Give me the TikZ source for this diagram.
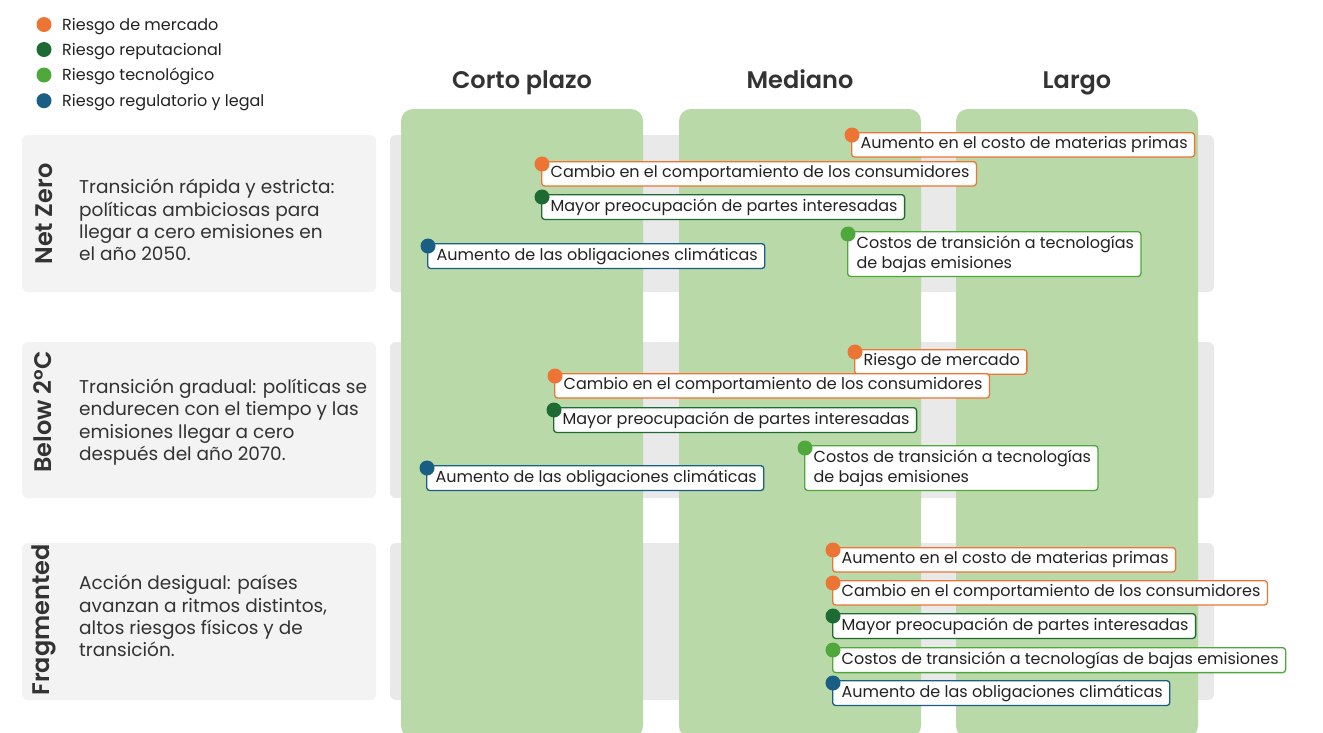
\documentclass[tikz,border=0pt]{standalone}
\usepackage{fontspec}
\setmainfont{Poppins}
\newfontfamily\semib{Poppins SemiBold}
\usetikzlibrary{calc}
\definecolor{orng}{HTML}{EC7535}
\definecolor{dgrn}{HTML}{1D6B33}
\definecolor{lgrn}{HTML}{4FA83B}
\definecolor{blu}{HTML}{195F84}
\definecolor{colg}{HTML}{B9D9A8}
\definecolor{rowl}{HTML}{F3F3F3}
\definecolor{rowr}{HTML}{E9E9E9}
\definecolor{txt}{HTML}{222222}
\definecolor{dtxt}{HTML}{333333}
\newcommand\riskbox[5]{%
  \node[lab=#2] (#1) at (#3,#4) {\hspace*{2pt}#5};
  \node[dot=#2] (#1d) at ($(#1.north west)+(1,3)$) {};}
\begin{document}
\begin{tikzpicture}[x=1pt,y=-1pt,
  lab/.style={draw=#1, fill=white, rounded corners=3pt, line width=1.3pt, anchor=north west,
    inner xsep=7pt, inner ysep=4pt, text=txt, align=left, minimum height=24pt,
    font=\fontsize{16}{20}\selectfont},
  dot/.style={circle, fill=#1, inner sep=0pt, minimum size=15pt},
  legt/.style={anchor=base west, inner sep=0pt, text=txt, font=\fontsize{16}{18}\selectfont},
  hdr/.style={anchor=base, inner sep=0pt, text=dtxt, font=\fontsize{24}{28}\selectfont\semib},
  rowname/.style={rotate=90, text=dtxt, font=\fontsize{24}{28}\selectfont\semib},
  desc/.style={anchor=west, inner sep=0pt, align=left, text=dtxt, font=\fontsize{18.5}{22.4}\selectfont},
  colbox/.style={fill=colg, rounded corners=12pt},
  rowleft/.style={fill=rowl, rounded corners=6pt},
  rowright/.style={fill=rowr, rounded corners=6pt}]
\useasboundingbox[fill=white] (0,0) rectangle (1323,732);

% legend
\node[dot=orng] (l1d) at (44,24.5) {};
\node[legt] (l1) at (62,30) {Riesgo de mercado};
\node[dot=dgrn] (l2d) at (44,49.5) {};
\node[legt] (l2) at (62,55.3) {Riesgo reputacional};
\node[dot=lgrn] (l3d) at (44,75) {};
\node[legt] (l3) at (62,80.6) {Riesgo tecnológico};
\node[dot=blu] (l4d) at (44,100.7) {};
\node[legt] (l4) at (62,106) {Riesgo regulatorio y legal};

% rows
\fill[rowleft] (22,135) rectangle (376,292);
\fill[rowright] (390,135) rectangle (1214,292);
\fill[rowleft] (22,342) rectangle (376,498);
\fill[rowright] (390,342) rectangle (1214,498);
\fill[rowleft] (22,543) rectangle (376,700);
\fill[rowright] (390,543) rectangle (1214,700);

% columns
\fill[colbox] (401,109) rectangle (643,738);
\fill[colbox] (679,109) rectangle (921,738);
\fill[colbox] (956,109) rectangle (1198,738);

% headers
\node[hdr] (h1) at (522,88.3) {Corto plazo};
\node[hdr] (h2) at (800,88.3) {Mediano};
\node[hdr] (h3) at (1077,88.3) {Largo};

% row names and descriptions
\node[rowname] (r1) at (44,214) {Net Zero};
\node[desc] (d1) at (79,220) {Transición rápida y estricta:\\políticas ambiciosas para\\llegar a cero emisiones en\\el año 2050.};
\node[rowname] (r2) at (43,412) {Below 2°C};
\node[desc] (d2) at (79,422) {Transición gradual: políticas se\\endurecen con el tiempo y las\\emisiones llegar a cero\\después del año 2070.};
\node[rowname] (r3) at (44,620) {Fragmented};
\node[desc] (d3) at (79,616) {Acción desigual: países\\avanzan a ritmos distintos,\\altos riesgos físicos y de\\transición.};

% Net Zero
\riskbox{a1}{orng}{851}{132}{Aumento en el costo de materias primas}
\riskbox{a2}{orng}{541}{161}{Cambio en el comportamiento de los consumidores}
\riskbox{a3}{dgrn}{541}{194}{Mayor preocupación de partes interesadas}
\riskbox{a4}{lgrn}{847}{231}{Costos de transición a tecnologías\\\hspace*{2pt}de bajas emisiones}
\riskbox{a5}{blu}{427}{243}{Aumento de las obligaciones climáticas}

% Below 2C
\riskbox{b1}{orng}{854}{349}{Riesgo de mercado}
\riskbox{b2}{orng}{554}{373}{Cambio en el comportamiento de los consumidores}
\riskbox{b3}{dgrn}{553}{407}{Mayor preocupación de partes interesadas}
\riskbox{b4}{lgrn}{804}{445}{Costos de transición a tecnologías\\\hspace*{2pt}de bajas emisiones}
\riskbox{b5}{blu}{426}{465}{Aumento de las obligaciones climáticas}

% Fragmented
\riskbox{c1}{orng}{832}{547}{Aumento en el costo de materias primas}
\riskbox{c2}{orng}{832}{580}{Cambio en el comportamiento de los consumidores}
\riskbox{c3}{dgrn}{832}{613}{Mayor preocupación de partes interesadas}
\riskbox{c4}{lgrn}{832}{647}{Costos de transición a tecnologías de bajas emisiones}
\riskbox{c5}{blu}{832}{680}{Aumento de las obligaciones climáticas}
\end{tikzpicture}
\end{document}
